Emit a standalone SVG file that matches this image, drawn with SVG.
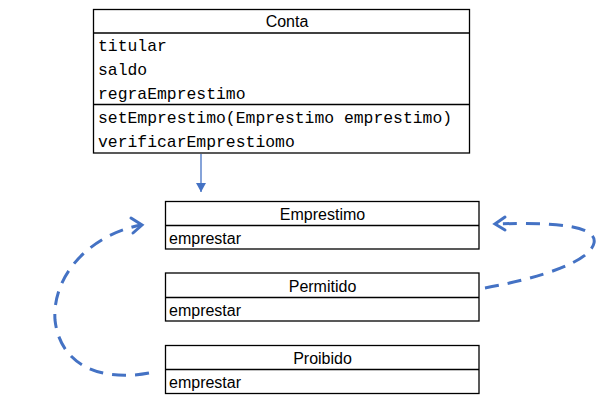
<svg xmlns="http://www.w3.org/2000/svg" width="609" height="412" viewBox="0 0 609 412">
<defs>
<style>
.box{fill:#fff;stroke:#000;stroke-width:1.3}
.div{stroke:#000;stroke-width:1.3}
.mono{font-family:"Liberation Mono","Courier New",monospace;font-size:16.4px;fill:#000}
.sans{font-family:"Liberation Sans",Arial,sans-serif;font-size:16px;fill:#000}
.title{text-anchor:middle}
.dash{fill:none;stroke:#4472C4;stroke-width:3;stroke-dasharray:14 9}
</style>
<marker id="tri" markerWidth="10" markerHeight="10" refX="9" refY="5" orient="auto" markerUnits="userSpaceOnUse" viewBox="0 0 10 10">
<path d="M0,0 L9,5 L0,10 Z" fill="#4472C4"/>
</marker>
</defs>
<rect width="609" height="412" fill="#fff"/>
<g id="Conta">
<rect class="box" x="93.5" y="9.5" width="376" height="143.5"/>
<line class="div" x1="93.5" y1="33" x2="469.5" y2="33"/>
<line class="div" x1="93.5" y1="104.5" x2="469.5" y2="104.5"/>
<text class="sans title" x="287" y="27">Conta</text>
<text class="mono" x="98" y="51">titular</text>
<text class="mono" x="98" y="75">saldo</text>
<text class="mono" x="98" y="99">regraEmprestimo</text>
<text class="mono" x="98" y="123">setEmprestimo(Emprestimo emprestimo)</text>
<text class="mono" x="98" y="147">verificarEmprestiomo</text>
</g>
<g id="Emprestimo">
<rect class="box" x="165.5" y="201.5" width="313.5" height="47.5"/>
<line class="div" x1="165.5" y1="225.5" x2="479" y2="225.5"/>
<text class="sans title" x="322.5" y="220">Emprestimo</text>
<text class="sans" x="169" y="244">emprestar</text>
</g>
<g id="Permitido">
<rect class="box" x="165.5" y="273" width="313.5" height="48"/>
<line class="div" x1="165.5" y1="297.5" x2="479" y2="297.5"/>
<text class="sans title" x="322.5" y="292">Permitido</text>
<text class="sans" x="169" y="316">emprestar</text>
</g>
<g id="Proibido">
<rect class="box" x="165.5" y="345.5" width="313.5" height="48"/>
<line class="div" x1="165.5" y1="369.5" x2="479" y2="369.5"/>
<text class="sans title" x="322.5" y="364">Proibido</text>
<text class="sans" x="169" y="388">emprestar</text>
</g>
<g id="connectors">
<line x1="201" y1="154" x2="201" y2="192" stroke="#4472C4" stroke-width="1.3" marker-end="url(#tri)"/>
<path class="dash" d="M149,373 C100,382 60,365 55,320 C52,275 90,235 141,225"/>
<path d="M131,218 L142,225 L133,233" fill="none" stroke="#4472C4" stroke-width="3" stroke-linecap="round"/>
<path class="dash" d="M485,288 C540,278 590,262 594,243 C598,225 550,222 496,224"/>
<path d="M505,217 L495,224 L505,230" fill="none" stroke="#4472C4" stroke-width="3" stroke-linecap="round"/>
</g>
</svg>
